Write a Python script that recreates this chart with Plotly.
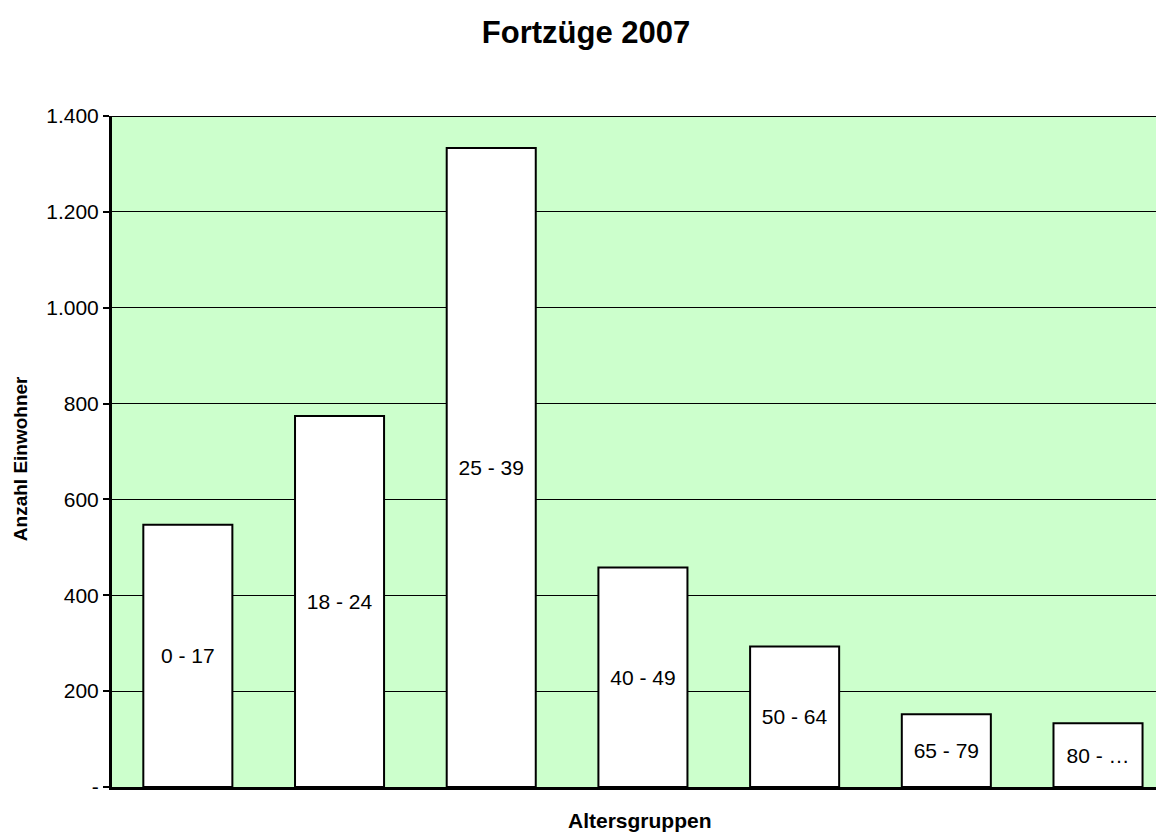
import plotly.graph_objects as go

GROUPS = ["0 - 17", "18 - 24", "25 - 39", "40 - 49", "50 - 64", "65 - 79", "80 - …"]
WEGZUEGE = [547, 774, 1333, 458, 293, 152, 133]

Y_TICKS = [0, 200, 400, 600, 800, 1000, 1200, 1400]
Y_TICK_TEXT = ["-", "200", "400", "600", "800", "1.000", "1.200", "1.400"]

FONT = "Liberation Sans, Arial, sans-serif"

fig = go.Figure()
fig.add_trace(
    go.Bar(
        x=GROUPS,
        y=WEGZUEGE,
        text=GROUPS,
        textposition="inside",
        insidetextanchor="middle",
        textfont=dict(family=FONT, size=21, color="black"),
        marker=dict(color="white", line=dict(color="black", width=2)),
        width=0.587,
        showlegend=False,
        hoverinfo="y",
    )
)

# top border of the plot area, like the original Excel frame
fig.add_shape(
    type="line", xref="paper", x0=0, x1=1, yref="y", y0=1400, y1=1400,
    line=dict(color="black", width=2), layer="above",
)

# axis titles placed as in the original (the chart was cut off on the right)
fig.add_annotation(
    text="<b>Altersgruppen</b>", xref="paper", yref="paper", x=0.502, y=0,
    yshift=-33, xanchor="center", yanchor="middle", showarrow=False,
    font=dict(size=21),
)
fig.add_annotation(
    text="<b>Anzahl Einwohner</b>", xref="paper", yref="paper", x=-0.0875, y=0.49,
    xanchor="center", yanchor="middle", textangle=-90, showarrow=False,
    font=dict(size=19), borderpad=0,
)

fig.update_layout(
    width=1156,
    height=826,
    margin=dict(l=104, r=0, t=108, b=47),
    paper_bgcolor="white",
    plot_bgcolor="#CCFFCC",
    font=dict(family=FONT, color="black"),
    title=dict(
        text="<b>Fortzüge 2007</b>",
        x=0.5,
        xanchor="center",
        y=0.971,
        yanchor="middle",
        font=dict(size=31, family=FONT),
    ),
    uniformtext=dict(minsize=21, mode="show"),
)

fig.update_xaxes(
    range=[-0.5, 6.435],
    showticklabels=False,
    showgrid=False,
    showline=True,
    linecolor="black",
    linewidth=3,
    ticks="",
)

fig.update_yaxes(
    range=[0, 1400],
    tickvals=Y_TICKS,
    ticktext=Y_TICK_TEXT,
    tickfont=dict(size=21),
    ticks="outside",
    ticklen=6,
    tickwidth=2,
    tickcolor="black",
    showgrid=True,
    gridcolor="black",
    gridwidth=1,
    showline=True,
    linecolor="black",
    linewidth=3,
    zeroline=False,
)

fig.write_html("out.html")
